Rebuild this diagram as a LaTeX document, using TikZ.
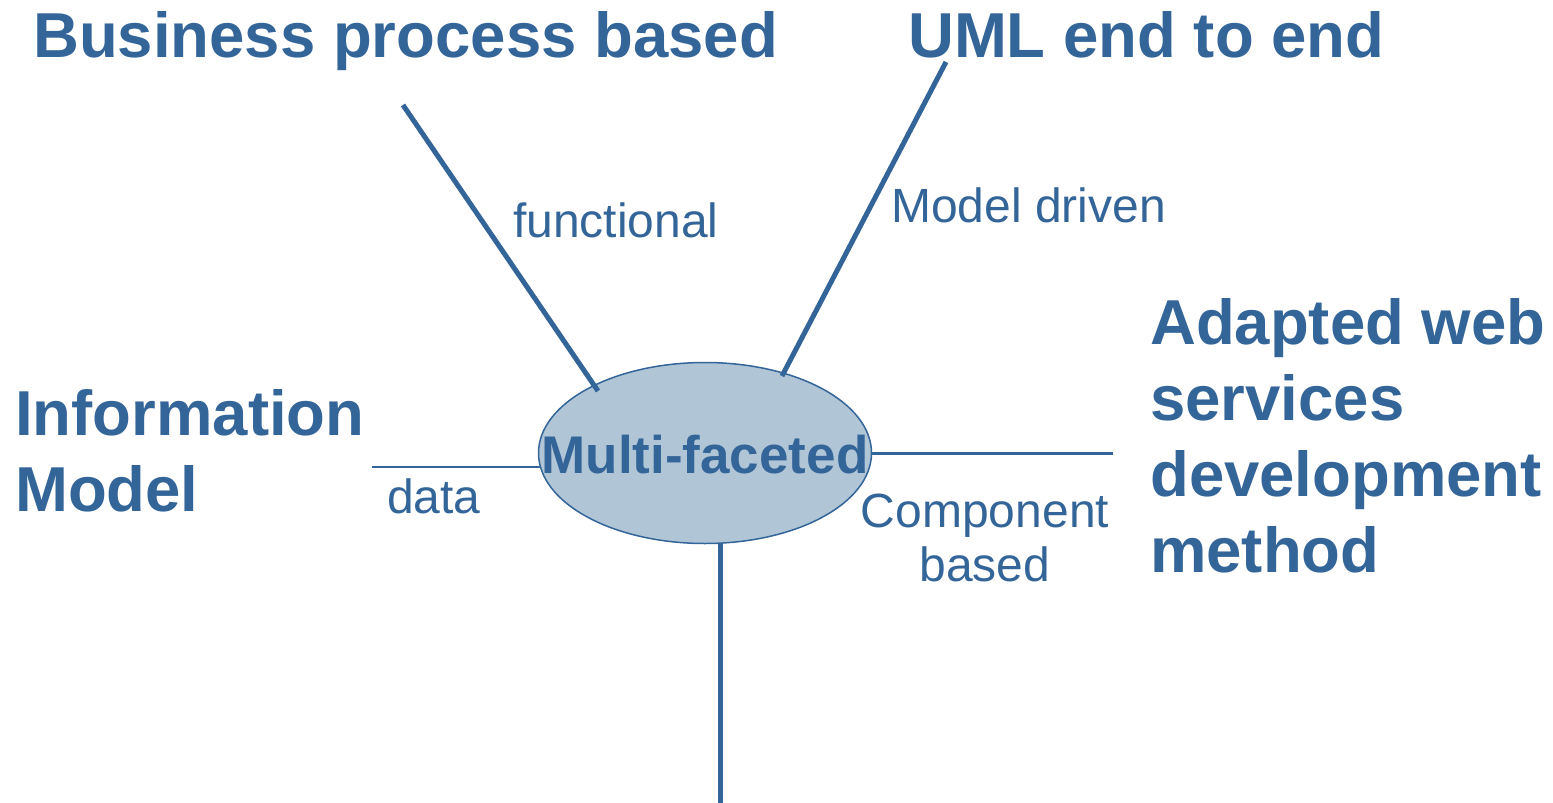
\documentclass[tikz,border=0pt]{standalone}
\usepackage{fontspec}
\setmainfont{Liberation Sans}
\usetikzlibrary{shapes.geometric}
\definecolor{blu}{RGB}{52,101,153}
\definecolor{fillb}{RGB}{176,197,214}
\begin{document}
\begin{tikzpicture}[x=1pt,y=-1pt,
  head/.style={text=blu,font=\fontsize{63.5}{76}\selectfont\bfseries,inner sep=0,anchor=base west,align=left},
  lab/.style={text=blu,font=\fontsize{48}{54}\selectfont,inner sep=0,anchor=base west},
  conn/.style={draw=blu,line width=5pt},
]
\useasboundingbox (0,0) rectangle (1553,803);
% centre ellipse
\node[ellipse,draw=blu,line width=1.5pt,fill=fillb,minimum width=333,minimum height=181,inner sep=0] (m) at (705,453) {};
\node[text=blu,font=\fontsize{53}{60}\selectfont\bfseries,inner sep=0,anchor=base] (mt) at (705,473) {Multi-faceted};
% headings
\node[head] (bp) at (33,57) {Business process based};
\node[head] (uml) at (908,57) {UML end to end};
\node[head] (aw) at (1150,572) {Adapted web\\services\\development\\method};
\node[head] (im) at (15,511) {Information\\Model};
% labels
\node[lab] (fn) at (513,237) {functional};
\node[lab] (md) at (891,222) {Model driven};
\node[lab] (da) at (387,513) {data};
\node[text=blu,font=\fontsize{48}{54}\selectfont,inner sep=0,anchor=base,align=center] (cb) at (985,581) {Component\\based};
% connector ends
\coordinate (b1) at (403,105);
\coordinate (b2) at (598,391);
\coordinate (u1) at (946,62);
\coordinate (u2) at (782,376);
\coordinate (r1) at (871,453);
\coordinate (r2) at (1113,453);
\coordinate (l1) at (372,467);
\coordinate (l2) at (540,467);
\coordinate (d1) at (720,543);
\coordinate (d2) at (720,803);
\draw[conn] (b1) -- (b2);
\draw[conn] (u1) -- (u2);
\draw[draw=blu,line width=3pt] (r1) -- (r2);
\draw[draw=blu,line width=2pt] (l1) -- (l2);
\draw[conn] (d1) -- (d2);
\end{tikzpicture}
\end{document}
